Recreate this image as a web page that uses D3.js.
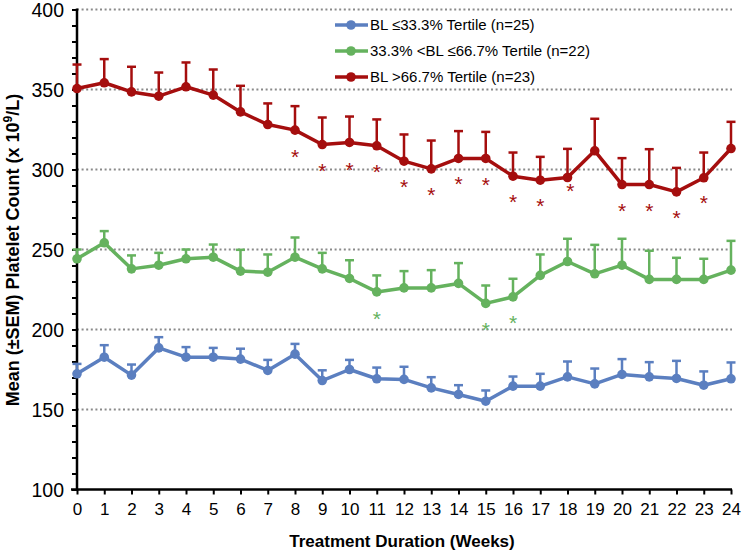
<!DOCTYPE html>
<html><head><meta charset="utf-8">
<script src="https://cdn.jsdelivr.net/npm/d3@7/dist/d3.min.js"></script>
<style>body{margin:0;background:#fff}svg{display:block;font-family:Arial,"Liberation Sans",sans-serif}</style>
</head><body><svg id="c" width="742" height="555"></svg>
<script>
const weeks = d3.range(0, 25);
const seriesNames = ["BL \u226433.3% Tertile (n=25)", "33.3% <BL \u226466.7% Tertile (n=22)", "BL >66.7% Tertile (n=23)"];
const seriesColors = ["#5b7fc0", "#65b25e", "#a50e0e"];
const lowMean = [172.3,182.7,171.5,188.5,182.7,182.7,181.5,174.4,184.6,168.1,175,169.2,168.8,163.5,159.4,155.2,164.6,164.6,170.4,166,171.9,170.4,169.4,165.2,169.2];
const lowUpper = [178.5,190.2,178.1,195.2,189,188.5,188,181,191,174.5,181,176.2,176.7,170.2,165.2,161.9,170.6,172.3,180,175.6,181.5,179.6,180.4,173.8,179.4];
const midMean = [244.2,254.2,237.9,240.2,244.2,245.2,236.5,235.8,245.2,237.9,231.9,223.5,226,226,228.8,216.3,220.4,233.8,242.5,234.8,240.2,231.3,231.3,231.3,237.1];
const midUpper = [250,261.5,246.3,247.9,250,253.1,249.8,246.9,257.5,247.9,243.3,233.8,236.5,237.1,241.5,227.5,231.7,246.9,256.7,252.9,256.7,249.2,244.8,244.2,255.4];
const highMean = [350.6,354.2,348.5,345.8,351.7,346.5,336,328.1,324.6,315.6,316.9,314.8,305.2,300.4,306.9,306.9,295.8,293.3,295,311.7,290.6,290.6,286,294.8,313.1];
const highUpper = [365.6,369,364.2,360.6,366.9,362.5,352.3,341.3,339.6,332.5,333.1,331.3,321.9,318.1,324,323.5,310.6,307.9,312.9,331.7,307.1,312.7,301,310.6,329.8];
const highStarWeeks = [8,9,10,11,12,13,14,15,16,17,18.1,20,21,22,23];
const highStarValues = [311,302,303,301.5,292.5,287.5,294,293.5,283,280.5,289.5,277.5,277,273,282];
const midStarWeeks = [11,15,16];
const midStarValues = [209.5,203,207];
const yTicks = [100,150,200,250,300,350,400];

const svg = d3.select("#c");
const x = d3.scaleLinear().domain([0,24]).range([77,731]);
const y = d3.scaleLinear().domain([100,400]).range([489.5,9.5]);

// gridlines
svg.append("g").selectAll("line").data(yTicks.filter(v=>v>100)).join("line")
  .attr("x1",x(0)).attr("x2",x(24)+1).attr("y1",d=>y(d)).attr("y2",d=>y(d))
  .attr("stroke","#8a8a8a").attr("stroke-width",2).attr("stroke-dasharray","2,2.6");

// y axis
const yAxis = svg.append("g").attr("transform",`translate(${x(0)},0)`);
yAxis.call(d3.axisLeft(y).tickValues(d3.range(100,401,10)).tickSize(5).tickFormat(""));
yAxis.selectAll(".tick line").attr("stroke","#000").attr("stroke-width",2);
yAxis.select(".domain").remove();
yAxis.selectAll(".ylab").data(yTicks).join("text").attr("class","ylab")
  .attr("x",-13).attr("y",d=>y(d)).attr("dy","0.36em").attr("text-anchor","end")
  .attr("font-size",19.5).attr("fill","#000").text(d=>d);

// x axis
const xAxis = svg.append("g").attr("transform",`translate(0,${y(100)})`);
xAxis.call(d3.axisBottom(x).tickValues(weeks).tickSize(5).tickFormat(d3.format("d")));
xAxis.selectAll(".tick line").attr("stroke","#000").attr("stroke-width",2);
xAxis.selectAll(".tick text").attr("font-size",17).attr("fill","#000").attr("y",13).attr("font-family","Arial, 'Liberation Sans', sans-serif");
xAxis.select(".domain").remove();

svg.append("line").attr("x1",x(0)).attr("x2",x(0)).attr("y1",y(400)-1).attr("y2",y(100)+1)
  .attr("stroke","#000").attr("stroke-width",2.5);
svg.append("line").attr("x1",x(0)-6).attr("x2",x(24)+1).attr("y1",y(100)).attr("y2",y(100))
  .attr("stroke","#000").attr("stroke-width",2.5);

// titles
svg.append("text").attr("x",402).attr("y",547).attr("text-anchor","middle")
  .attr("font-size",17).attr("font-weight","bold").text("Treatment Duration (Weeks)");
const yt = svg.append("text").attr("transform","translate(19,250) rotate(-90)").attr("text-anchor","middle")
  .attr("font-size",18).attr("font-weight","bold");
yt.append("tspan").text("Mean (\u00B1SEM) Platelet Count (x 10");
yt.append("tspan").attr("font-size",12).attr("dy",-7).text("9");
yt.append("tspan").attr("dy",7).text("/L)");

// series
const series = [
  {mean: lowMean, upper: lowUpper, color: seriesColors[0]},
  {mean: midMean, upper: midUpper, color: seriesColors[1]},
  {mean: highMean, upper: highUpper, color: seriesColors[2]}
];
const line = d3.line().x((d,i)=>x(weeks[i])).y(d=>y(d));
series.forEach(s=>{
  const g = svg.append("g");
  g.selectAll(".eb").data(weeks).join("line").attr("class","eb")
    .attr("x1",d=>x(d)).attr("x2",d=>x(d)).attr("y1",(d,i)=>y(s.mean[i])).attr("y2",(d,i)=>y(s.upper[i]))
    .attr("stroke",s.color).attr("stroke-width",2.5);
  g.selectAll(".cap").data(weeks).join("line").attr("class","cap")
    .attr("x1",d=>x(d)-4.5).attr("x2",d=>x(d)+4.5).attr("y1",(d,i)=>y(s.upper[i])).attr("y2",(d,i)=>y(s.upper[i]))
    .attr("stroke",s.color).attr("stroke-width",2.5);
  g.append("path").datum(s.mean).attr("d",line).attr("fill","none")
    .attr("stroke",s.color).attr("stroke-width",3.5).attr("stroke-linejoin","round");
  g.selectAll("circle").data(s.mean).join("circle")
    .attr("cx",(d,i)=>x(weeks[i])).attr("cy",d=>y(d)).attr("r",4.8).attr("fill",s.color);
});

// asterisks
svg.append("g").selectAll("text").data(highStarWeeks).join("text")
  .attr("x",d=>x(d)).attr("y",(d,i)=>y(highStarValues[i])).attr("dy","0.58em").attr("text-anchor","middle")
  .attr("font-size",21).attr("fill",seriesColors[2]).text("*");
svg.append("g").selectAll("text").data(midStarWeeks).join("text")
  .attr("x",d=>x(d)).attr("y",(d,i)=>y(midStarValues[i])).attr("dy","0.58em").attr("text-anchor","middle")
  .attr("font-size",21).attr("fill",seriesColors[1]).text("*");

// legend
const lg = svg.append("g");
lg.append("rect").attr("x",330).attr("y",13).attr("width",270).attr("height",73).attr("fill","#fff");
seriesNames.forEach((n,i)=>{
  const yy = 25 + i*26;
  lg.append("line").attr("x1",335).attr("x2",368).attr("y1",yy).attr("y2",yy)
    .attr("stroke",seriesColors[i]).attr("stroke-width",3.5);
  lg.append("circle").attr("cx",351).attr("cy",yy).attr("r",4.8).attr("fill",seriesColors[i]);
  lg.append("text").attr("x",370).attr("y",yy).attr("dy","0.36em").attr("font-size",15).attr("fill","#000").text(n);
});
</script></body></html>
